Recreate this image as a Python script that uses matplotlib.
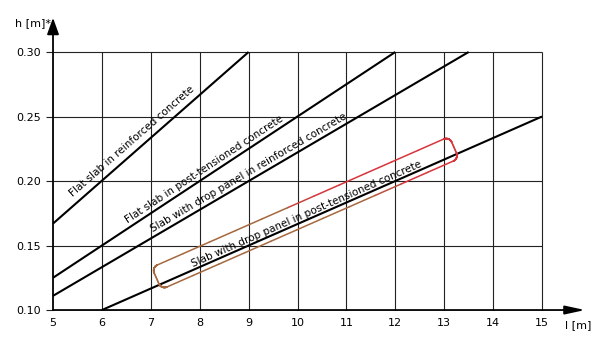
import numpy as np
import matplotlib
matplotlib.use('Agg')
import matplotlib.pyplot as plt
from matplotlib.collections import LineCollection
from matplotlib.colors import to_rgb

# axis ticks
l_ticks = [5, 6, 7, 8, 9, 10, 11, 12, 13, 14, 15]
l_labels = ['5', '6', '7', '8', '9', '10', '11', '12', '13', '14', '15']
h_ticks = [0.10, 0.15, 0.20, 0.25, 0.30]
h_labels = ['0.10', '0.15', '0.20', '0.25', '0.30']

# span l [m] -> slab thickness h [m]
flat_rc_l = [5, 9]
flat_rc_h = [0.167, 0.30]
flat_pt_l = [5, 12]
flat_pt_h = [0.125, 0.30]
drop_rc_l = [5, 13.5]
drop_rc_h = [0.111, 0.30]
drop_pt_l = [6, 15]
drop_pt_h = [0.10, 0.25]

names = ['Flat slab in reinforced concrete',
         'Flat slab in post-tensioned concrete',
         'Slab with drop panel in reinforced concrete',
         'Slab with drop panel in post-tensioned concrete']

fig = plt.figure(figsize=(6, 3.45), dpi=100)
ax = fig.add_axes([0, 0, 1, 1])
ax.set_xlim(3.916, 16.186)
ax.set_ylim(0.0729, 0.3403)

# spines only used to place tick labels
for s in ['top', 'right']:
    ax.spines[s].set_visible(False)
ax.spines['left'].set_position(('data', 5))
ax.spines['bottom'].set_position(('data', 0.10))
ax.spines['left'].set_color('none')
ax.spines['bottom'].set_color('none')

ax.set_xticks(l_ticks, l_labels)
ax.set_yticks(h_ticks, h_labels)
ax.tick_params(axis='x', length=0, pad=6, labelsize=8)
ax.tick_params(axis='y', length=5, width=0.8, color='#222222', pad=4, labelsize=8)

# grid
ax.vlines(l_ticks[1:], h_ticks[0], h_ticks[-1], color='#222222', lw=0.8)
ax.hlines(h_ticks[1:], l_ticks[0], l_ticks[-1], color='#222222', lw=0.8)

# axes with arrow heads
ax.annotate('', xy=(15.88, 0.10), xytext=(5, 0.10),
            arrowprops=dict(arrowstyle='-|>,head_length=0.6,head_width=0.13',
                            mutation_scale=20, lw=1.3, color='k',
                            shrinkA=0, shrinkB=0))
ax.annotate('', xy=(5, 0.3265), xytext=(5, 0.10),
            arrowprops=dict(arrowstyle='-|>,head_length=0.5,head_width=0.18',
                            mutation_scale=20, lw=1.3, color='k',
                            shrinkA=0, shrinkB=0))
ax.text(15.47, 0.0884, 'l [m]', fontsize=8, ha='left', va='center')
ax.text(4.22, 0.3225, 'h [m]*', fontsize=8, ha='left', va='center')

# curves
series = [(flat_rc_l, flat_rc_h), (flat_pt_l, flat_pt_h),
          (drop_rc_l, drop_rc_h), (drop_pt_l, drop_pt_h)]
label_pos = [(5.41, 0.1876), (6.53, 0.1674), (7.05, 0.1605), (7.86, 0.1333)]
angles = []
for (xs, ys), name, (tx, ty) in zip(series, names, label_pos):
    ax.plot(xs, ys, color='k', lw=1.5, solid_capstyle='butt')
    p = ax.transData.transform(np.column_stack([xs, ys]))
    ang = np.degrees(np.arctan2(p[1, 1] - p[0, 1], p[1, 0] - p[0, 0]))
    angles.append(ang)
    ax.text(tx, ty, name, fontsize=7.5, rotation=ang, rotation_mode='anchor',
            ha='left', va='baseline')

# highlight box around the last label (brown -> red)
def rounded_rect(w, h, r, n=12):
    pts = []
    for cx, cy, a0 in [(w/2 - r, h/2 - r, 0), (-w/2 + r, h/2 - r, 90),
                       (-w/2 + r, -h/2 + r, 180), (w/2 - r, -h/2 + r, 270)]:
        t = np.radians(np.linspace(a0, a0 + 90, n))
        pts.append(np.column_stack([cx + r*np.cos(t), cy + r*np.sin(t)]))
    pts.append(pts[0][:1])
    return np.vstack(pts)

local = rounded_rect(325, 24, 6)
# split edges into short pieces so the colour can change along them
fine = [local[0]]
for p0, p1 in zip(local[:-1], local[1:]):
    for k in np.linspace(0, 1, 12)[1:]:
        fine.append(p0 + (p1 - p0) * k)
local = np.array(fine)

a = np.radians(angles[3])
rot = np.array([[np.cos(a), -np.sin(a)], [np.sin(a), np.cos(a)]])
centre = ax.transData.transform([(10.16, 0.1752)])[0]
disp = local @ rot.T + centre
pts = ax.transData.inverted().transform(disp)
segs = np.stack([pts[:-1], pts[1:]], axis=1)
mid = (local[:-1] + local[1:]) / 2
t = np.clip((mid[:, 0] + 4 * mid[:, 1] - 20) / 40, 0, 1)[:, None]
brown, red = np.array(to_rgb('#a5683f')), np.array(to_rgb('#d8343b'))
cols = brown * (1 - t) + red * t
ax.add_collection(LineCollection(segs, colors=cols, lw=1.1, capstyle='round'))

fig.savefig('out.png', dpi=100)
